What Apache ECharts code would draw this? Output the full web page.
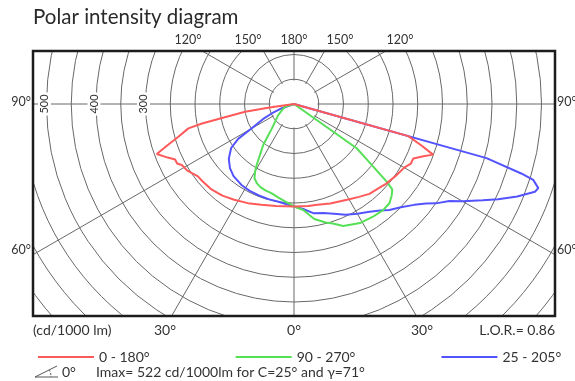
<!DOCTYPE html>
<html>
<head>
<meta charset="utf-8">
<script src="https://cdn.jsdelivr.net/npm/echarts@6/dist/echarts.min.js"></script>
<style>
  html, body { margin: 0; padding: 0; background: #fff; }
  #chart { width: 575px; height: 381px; }
</style>
</head>
<body>
<div id="chart"></div>
<script>
// Luminous intensity in cd/1000 lm against gamma angle (0° = nadir),
// one [gamma, cd] list per half of each C-plane pair.
const planeNames = ['0 - 180°', '90 - 270°', '25 - 205°'];

const c180 = [[0,207],[10,209],[18,214],[25,221],[32,228],[38,235],[44,240],[50,242],[53,243],[58,254],[61.5,258],[63,265],[65,265],[67,277],[70,295],[72,268],[74,245],[77,219],[78,190],[79,150],[81,100],[82,50],[90,0]];
const c0   = [[0,207],[8,208],[13,209],[20,214],[29,221],[35,229],[40,237],[45,241],[49,246],[55,252],[60,257],[62,263],[63,265],[65.5,265],[68,282],[70,299],[72,270],[74.3,240],[90,0]];

const c270 = [[0,207],[5,198],[10,191],[14,186],[18,184],[22,181],[25,177],[28,170],[30,157],[31.5,144],[34,122],[37,103],[42,67],[48,50],[55,39],[65,25],[73,19],[90,0]];
const c90  = [[0,207],[5,215],[8,227],[10,236],[15,248],[18,254],[22,266],[25,269],[29,275],[35,278],[40,280],[44,278],[47,270],[49,263],[50,245],[51.7,204],[53,180],[54.8,155],[90,0]];

const c205 = [[0,207],[9,200],[15,199],[21,198],[27,197],[33,195],[40,190],[45,183],[50,172],[55,155],[58,133],[60,100],[64,70],[67,49],[71,26],[90,0]];
const c25  = [[0,207],[5,213],[10,224],[15,228],[20,236],[25,247],[30,256],[35,266],[39,277],[42,288],[46,300],[50,317],[53,334],[55,350],[58,370],[60,393],[63,428],[65,455],[67.5,488],[70,518],[71,522],[72.4,507],[73,480],[74.3,404],[90,0]];

// Axis tick labels
const radiusTicks = [300, 400, 500];
const gammaTop = ['120°', '150°', '180°', '150°', '120°'];
const gammaSide = ['90°', '60°'];
const gammaBottom = ['30°', '0°', '30°'];

const unitLabel = '(cd/1000 lm)';
const lor = 0.86;
const iMax = 522, iMaxC = 25, iMaxGamma = 71;

const FONT = 'Lato, "DejaVu Sans", sans-serif';
const TXT = '#333';
const GRID = '#686868';

// C-plane pair -> closed polar outline: left half runs 0..180 clockwise from
// the bottom, right half is mirrored as 360 - gamma.
function outline(left, right) {
  const a = left.map(([g, cd]) => [cd, g]);
  const b = right.slice().reverse().map(([g, cd]) => [cd, 360 - g]);
  return a.concat(b);
}

const chart = echarts.init(document.getElementById('chart'));

const series = [
  { name: planeNames[2], color: '#5454ff', data: outline(c205, c25) },
  { name: planeNames[1], color: '#55e055', data: outline(c270, c90) },
  { name: planeNames[0], color: '#ff5a5a', data: outline(c180, c0) }
].map(s => ({
  type: 'line',
  coordinateSystem: 'polar',
  name: s.name,
  data: s.data,
  symbol: 'none',
  smooth: false,
  color: s.color,
  lineStyle: { color: s.color, width: 2 },
  z: 2
}));

chart.setOption({
  animation: false,
  title: {
    text: 'Polar intensity diagram',
    left: 33, top: 7, padding: 0,
    textStyle: { fontFamily: FONT, fontSize: 20.5, fontWeight: 'normal', color: '#2a2a2a' }
  },
  polar: { center: [294, 104], radius: 346.5 },
  angleAxis: {
    type: 'value', min: 0, max: 360, interval: 30,
    startAngle: 270, clockwise: true,
    axisLine: { show: false }, axisTick: { show: false }, axisLabel: { show: false },
    splitLine: { show: true, lineStyle: { color: GRID, width: 1 } }
  },
  radiusAxis: {
    type: 'value', min: 0, max: 700, interval: 50,
    axisLine: { show: false }, axisTick: { show: false }, axisLabel: { show: false },
    splitLine: { show: true, lineStyle: { color: GRID, width: 1 } }
  },
  legend: {
    data: planeNames,
    left: 33, top: 345,
    itemWidth: 56, itemHeight: 2, itemGap: 86,
    icon: 'rect',
    textStyle: { fontFamily: FONT, fontSize: 14, color: TXT },
    selectedMode: false
  },
  series: series
});

function text(x, y, str, align, size, extra) {
  return Object.assign({
    type: 'text', x: x, y: y, z: 6, silent: true,
    style: {
      text: str, x: 0, y: 0,
      align: align, verticalAlign: 'middle',
      textAlign: align, textVerticalAlign: 'middle',
      font: (size || 12) + 'px ' + FONT, fill: TXT
    }
  }, extra || {});
}

const F = { left: 33, top: 51, right: 555, bottom: 316 };
const graphics = [
  // keep the radial lines off the innermost ring
  { type: 'circle', z: 1, silent: true, shape: { cx: 294, cy: 104, r: 23.4 }, style: { fill: '#fff' } },
  // plot area is the rectangle; paper outside it
  { type: 'rect', z: 3, silent: true, shape: { x: 0, y: 0, width: 575, height: F.top }, style: { fill: '#fff' } },
  { type: 'rect', z: 3, silent: true, shape: { x: 0, y: 0, width: F.left, height: 381 }, style: { fill: '#fff' } },
  { type: 'rect', z: 3, silent: true, shape: { x: F.right, y: 0, width: 575 - F.right, height: 381 }, style: { fill: '#fff' } },
  { type: 'rect', z: 3, silent: true, shape: { x: 0, y: F.bottom, width: 575, height: 381 - F.bottom }, style: { fill: '#fff' } },
  { type: 'rect', z: 5, silent: true,
    shape: { x: F.left, y: F.top, width: F.right - F.left, height: F.bottom - F.top },
    style: { fill: 'none', stroke: '#1c1c1c', lineWidth: 2.5 } }
];

// gamma labels along the frame
[188, 248, 294, 340, 400].forEach((x, i) => graphics.push(text(x, 40, gammaTop[i], 'center', 12.5)));
[102, 250].forEach((y, i) => {
  graphics.push(text(31, y, gammaSide[i], 'right', 12.5));
  graphics.push(text(557, y, gammaSide[i], 'left', 12.5));
});
[165, 294, 422].forEach((x, i) => graphics.push(text(x, 330, gammaBottom[i], 'center', 14)));
graphics.push(text(33, 330, unitLabel, 'left', 14));
graphics.push(text(555, 330, 'L.O.R.= ' + lor.toFixed(2), 'right', 14));

// intensity labels on the 90° line, placed through the polar scale
radiusTicks.forEach(v => {
  const p = chart.convertToPixel({ seriesIndex: 0 }, [v, 90]);
  graphics.push({
    type: 'text', x: p[0] - 2, y: p[1], rotation: Math.PI / 2, z: 4, silent: true,
    style: {
      text: String(v), x: 0, y: 0,
      align: 'center', verticalAlign: 'middle',
      textAlign: 'center', textVerticalAlign: 'middle',
      font: '11px ' + FONT, fill: TXT,
      backgroundColor: '#fff', padding: [1, 2, 1, 2]
    }
  });
});

// gamma reference symbol and peak intensity note
graphics.push({ type: 'polyline', z: 6, silent: true,
  shape: { points: [[57, 366], [35, 377], [58, 377]] },
  style: { stroke: '#555', lineWidth: 1, fill: 'none' } });
graphics.push({ type: 'arc', z: 6, silent: true,
  shape: { cx: 35, cy: 377, r: 16, startAngle: -0.47, endAngle: 0, clockwise: true },
  style: { stroke: '#555', lineWidth: 1, fill: 'none', lineDash: [2, 1.5] } });
graphics.push(text(62, 372, '0°', 'left', 14));
graphics.push(text(96, 372, 'Imax= ' + iMax + ' cd/1000lm for C=' + iMaxC + '° and γ=' + iMaxGamma + '°', 'left', 14));

chart.setOption({ graphic: graphics });
</script>
</body>
</html>
